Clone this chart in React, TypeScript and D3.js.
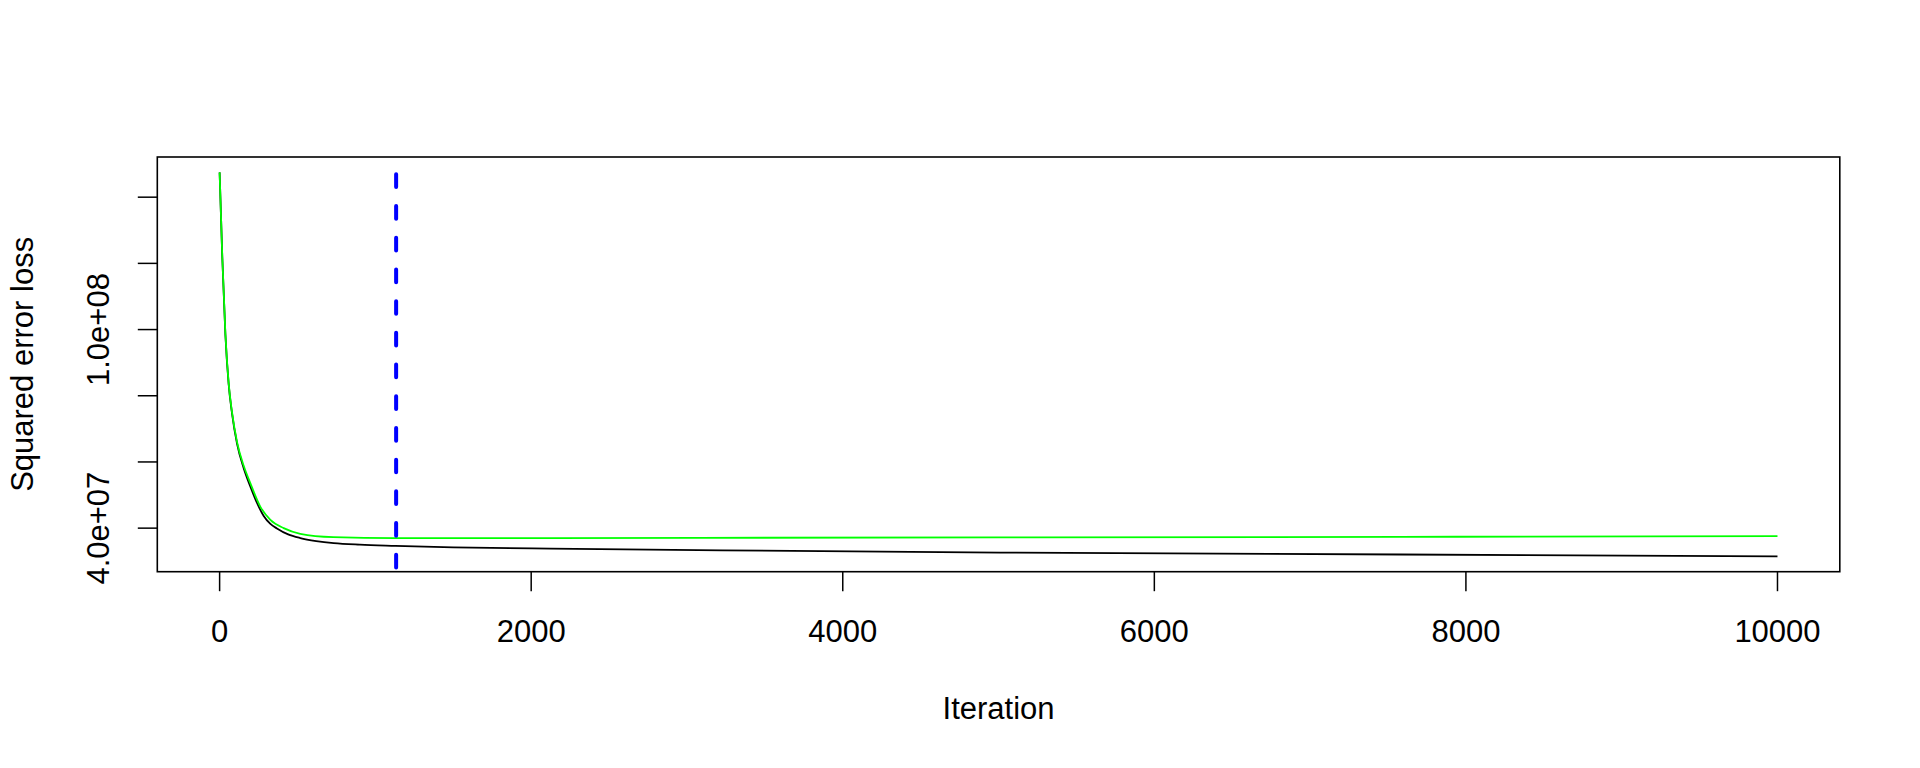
import React, { useEffect, useRef } from 'react';
import * as d3 from 'd3';

// values, loss in units of 1e7
const trainIter = [0, 17, 37, 58, 80, 112, 154, 197, 240, 283, 326, 368, 440, 518, 620, 732, 900, 1128, 1500, 2124, 3227, 5012, 7580, 10000];
const trainLoss = [14.75, 12.2, 9.85, 8.35, 7.45, 6.55, 5.82, 5.26, 4.76, 4.37, 4.13, 3.99, 3.81, 3.70, 3.61, 3.547, 3.50, 3.465, 3.42, 3.384, 3.33, 3.263, 3.203, 3.148];

const testIter = [0, 17, 37, 58, 80, 112, 154, 197, 261, 326, 411, 518, 730, 1128, 2124, 3087, 5012, 7580, 10000];
const testLoss = [14.75, 12.22, 9.88, 8.38, 7.49, 6.60, 5.89, 5.36, 4.65, 4.25, 4.00, 3.83, 3.73, 3.70, 3.70, 3.707, 3.72, 3.737, 3.761];

const stopIter = 1133;

const xTicks = [0, 2000, 4000, 6000, 8000, 10000];
const yTicks = [4e7, 6e7, 8e7, 10e7, 12e7, 14e7];
const yTickLabels = ['4.0e+07', '', '', '1.0e+08', '', ''];

const WIDTH = 1920;
const HEIGHT = 768;
const FONT = '"Liberation Sans", Arial, Helvetica, sans-serif';

type Pt = { it: number; loss: number };

const App: React.FC = () => {
  const svgRef = useRef<SVGSVGElement>(null);

  useEffect(() => {
    if (!svgRef.current) return;
    const svg = d3.select(svgRef.current);
    svg.selectAll('*').remove();

    const train: Pt[] = trainIter.map((it, i) => ({ it, loss: trainLoss[i] * 1e7 }));
    const test: Pt[] = testIter.map((it, i) => ({ it, loss: testLoss[i] * 1e7 }));

    // R style 4% padding around the data range
    const all = train.concat(test);
    const yMin = d3.min(all, d => d.loss)!;
    const yMax = d3.max(all, d => d.loss)!;
    const yPad = (yMax - yMin) * 0.04;
    const xPad = 10000 * 0.04;

    const left = 157.3, right = 1839.8, top = 157, bottom = 571.7;

    const x = d3.scaleLinear().domain([-xPad, 10000 + xPad]).range([left, right]);
    const y = d3.scaleLinear().domain([yMin - yPad, yMax + yPad]).range([bottom, top]);

    svg.append('defs').append('clipPath')
      .attr('id', 'plot-clip')
      .append('rect')
      .attr('x', left).attr('y', top)
      .attr('width', right - left).attr('height', bottom - top);

    const line = d3.line<Pt>()
      .x(d => x(d.it))
      .y(d => y(d.loss))
      .curve(d3.curveMonotoneX);

    const plot = svg.append('g').attr('clip-path', 'url(#plot-clip)');

    plot.append('path')
      .attr('d', line(train))
      .attr('fill', 'none')
      .attr('stroke', '#000000')
      .attr('stroke-width', 1.8);

    plot.append('path')
      .attr('d', line(test))
      .attr('fill', 'none')
      .attr('stroke', '#00ff00')
      .attr('stroke-width', 1.8);

    plot.append('line')
      .attr('x1', x(stopIter)).attr('x2', x(stopIter))
      .attr('y1', y(yMax) + 2).attr('y2', bottom + 20)
      .attr('stroke', '#0000ff')
      .attr('stroke-width', 4)
      .attr('stroke-linecap', 'round')
      .attr('stroke-dasharray', '12.7,19');

    // box
    svg.append('rect')
      .attr('x', left).attr('y', top)
      .attr('width', right - left).attr('height', bottom - top)
      .attr('fill', 'none')
      .attr('stroke', '#000')
      .attr('stroke-width', 1.6);

    const tickLen = 19.5;

    const xAxis = svg.append('g');
    xTicks.forEach(t => {
      xAxis.append('line')
        .attr('x1', x(t)).attr('x2', x(t))
        .attr('y1', bottom).attr('y2', bottom + tickLen)
        .attr('stroke', '#000').attr('stroke-width', 1.5);
      xAxis.append('text')
        .attr('x', x(t)).attr('y', 641.5)
        .attr('text-anchor', 'middle')
        .attr('font-family', FONT).attr('font-size', 31)
        .text(String(t));
    });

    const yAxis = svg.append('g');
    yTicks.forEach((t, i) => {
      yAxis.append('line')
        .attr('x1', left - tickLen).attr('x2', left)
        .attr('y1', y(t)).attr('y2', y(t))
        .attr('stroke', '#000').attr('stroke-width', 1.5);
      if (yTickLabels[i]) {
        yAxis.append('text')
          .attr('transform', `translate(108.5,${y(t)}) rotate(-90)`)
          .attr('text-anchor', 'middle')
          .attr('font-family', FONT).attr('font-size', 31)
          .text(yTickLabels[i]);
      }
    });

    svg.append('text')
      .attr('x', (left + right) / 2).attr('y', 719)
      .attr('text-anchor', 'middle')
      .attr('font-family', FONT).attr('font-size', 31)
      .text('Iteration');

    svg.append('text')
      .attr('transform', `translate(33,${(top + bottom) / 2}) rotate(-90)`)
      .attr('text-anchor', 'middle')
      .attr('font-family', FONT).attr('font-size', 31)
      .text('Squared error loss');
  }, []);

  return (
    <div style={{ position: 'absolute', left: 0, top: 0 }}>
      <svg ref={svgRef} width={WIDTH} height={HEIGHT} style={{ display: 'block', background: '#fff' }} />
    </div>
  );
};

export default App;
